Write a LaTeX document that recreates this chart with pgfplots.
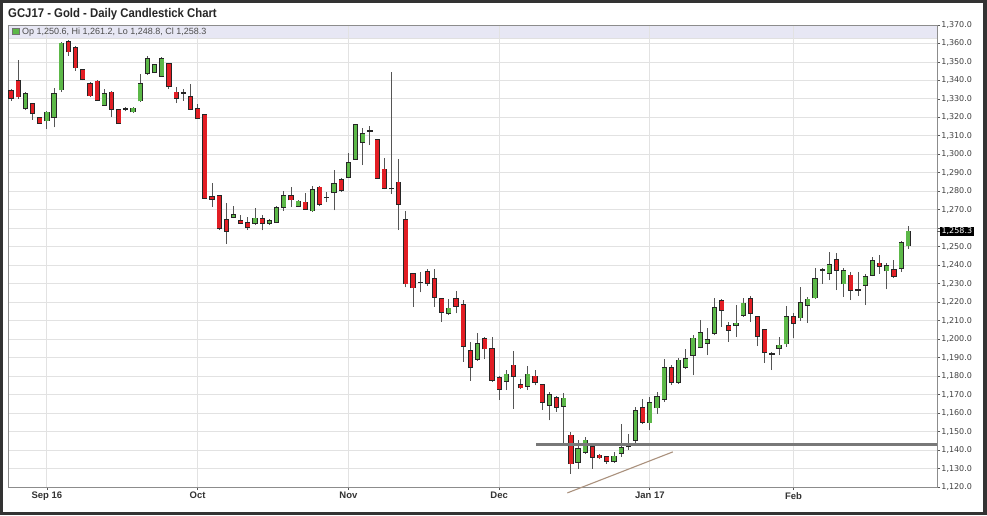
\documentclass[border=0pt]{standalone}
\usepackage{pgfplots}
\pgfplotsset{compat=1.18}
\usepackage{pgfplotstable}
\usepackage{fontspec}
\setmainfont{Liberation Sans}
\newfontfamily\tickfont{DejaVu Sans}
\newfontfamily\titlefont[FakeStretch=0.9]{Liberation Sans}
\definecolor{cgreen}{RGB}{92,184,72}
\definecolor{cred}{RGB}{226,30,36}
\definecolor{cgrid}{RGB}{226,226,226}
\definecolor{cbar}{RGB}{231,231,244}
\definecolor{cwick}{RGB}{85,85,85}
\definecolor{csupport}{RGB}{120,120,120}
\definecolor{ctrend}{RGB}{170,145,125}
\definecolor{caxis}{RGB}{140,140,140}

% t: 1 = up (green), 2 = down (red), 0 = doji
\pgfplotstableread{
i t o h l c
0 2 1334.4 1335.5 1329.0 1330.5
1 2 1339.8 1351.2 1329.9 1331.2
2 1 1324.9 1333.5 1324.0 1332.6
3 2 1327.2 1328.0 1318.6 1322.2
4 2 1319.6 1320.3 1316.5 1317.0
5 1 1318.2 1323.2 1313.7 1322.7
6 1 1320.0 1335.9 1314.6 1332.6
7 1 1335.0 1360.6 1334.0 1360.0
8 2 1361.0 1362.0 1353.3 1355.5
9 2 1357.8 1358.5 1345.2 1347.0
10 2 1345.6 1346.2 1340.0 1340.7
11 2 1338.0 1339.0 1331.0 1331.7
12 2 1339.5 1340.2 1329.0 1329.5
13 1 1326.8 1335.3 1326.3 1332.6
14 2 1333.5 1334.2 1320.4 1324.5
15 2 1324.0 1324.5 1316.5 1317.0
16 0 1324.5 1325.8 1323.2 1324.5
17 1 1323.1 1325.5 1322.5 1324.9
18 1 1329.0 1343.4 1328.6 1338.0
19 1 1343.8 1353.3 1343.0 1351.5
20 1 1344.3 1349.0 1344.0 1348.3
21 1 1342.5 1352.8 1342.0 1351.5
22 2 1348.8 1349.5 1335.3 1337.1
23 2 1333.5 1336.2 1327.7 1330.5
24 0 1333.2 1335.3 1329.0 1333.2
25 2 1331.2 1338.0 1324.0 1324.5
26 2 1324.5 1327.2 1319.0 1319.5
27 2 1321.4 1322.0 1275.9 1276.4
28 2 1277.1 1284.3 1271.4 1275.7
29 2 1277.7 1278.2 1259.0 1260.0
30 2 1264.5 1273.7 1251.5 1258.4
31 1 1266.0 1271.9 1265.5 1267.4
32 2 1264.1 1267.4 1262.2 1262.9
33 2 1262.9 1266.0 1259.1 1260.5
34 1 1262.7 1270.8 1261.9 1265.4
35 2 1265.1 1267.2 1258.8 1262.9
36 1 1262.7 1265.0 1262.0 1264.1
37 1 1263.2 1272.3 1262.8 1271.0
38 1 1271.4 1280.4 1269.5 1277.7
39 2 1277.7 1282.2 1271.4 1275.5
40 1 1271.9 1275.3 1271.4 1274.6
41 2 1274.0 1279.0 1270.0 1270.5
42 1 1269.5 1282.7 1269.0 1280.7
43 2 1282.2 1283.1 1272.0 1273.2
44 0 1276.6 1279.5 1274.0 1276.6
45 1 1279.4 1291.4 1269.7 1284.2
46 2 1286.1 1287.0 1279.8 1280.7
47 1 1287.5 1300.5 1287.0 1295.5
48 1 1297.5 1316.4 1297.0 1315.9
49 1 1306.5 1314.0 1294.2 1311.0
50 0 1312.6 1315.3 1305.0 1312.6
51 2 1307.7 1308.2 1287.0 1287.3
52 2 1291.9 1298.2 1281.0 1281.9
53 0 1281.4 1344.4 1278.8 1281.4
54 2 1284.8 1297.6 1259.0 1273.1
55 2 1264.4 1269.5 1228.0 1230.1
56 2 1235.5 1236.0 1217.5 1227.8
57 0 1230.7 1236.4 1225.3 1230.7
58 2 1236.4 1237.9 1229.0 1230.5
59 2 1232.5 1237.7 1217.5 1222.9
60 2 1221.8 1222.5 1209.4 1214.8
61 1 1213.9 1222.0 1213.0 1216.6
62 2 1221.8 1226.2 1213.9 1217.9
63 2 1218.4 1221.1 1187.7 1196.2
64 2 1193.5 1198.5 1177.4 1184.7
65 1 1189.2 1203.1 1188.3 1197.3
66 2 1200.3 1201.3 1189.2 1194.9
67 2 1194.6 1201.3 1177.0 1177.8
68 2 1179.2 1180.0 1167.0 1172.9
69 1 1177.3 1183.2 1172.4 1181.0
70 2 1185.9 1193.5 1162.4 1180.0
71 2 1175.1 1178.7 1173.0 1173.8
72 1 1174.5 1185.3 1172.4 1181.0
73 2 1179.9 1183.5 1175.0 1176.9
74 2 1175.1 1176.0 1161.9 1166.1
75 1 1164.3 1171.5 1156.1 1169.7
76 2 1168.4 1169.1 1160.7 1163.4
77 1 1163.7 1170.6 1143.5 1167.9
78 2 1148.0 1149.8 1127.3 1132.7
79 1 1133.6 1145.3 1130.0 1140.8
80 1 1139.0 1147.1 1138.0 1145.3
81 2 1141.7 1142.5 1130.0 1136.3
82 2 1137.2 1138.0 1135.0 1135.9
83 2 1136.3 1137.0 1132.5 1134.1
84 1 1133.9 1139.0 1133.0 1136.6
85 1 1138.4 1154.3 1136.3 1141.3
86 0 1142.0 1148.9 1139.9 1142.3
87 1 1145.3 1163.4 1144.0 1161.2
88 2 1163.0 1167.5 1154.0 1155.2
89 1 1154.9 1168.8 1150.7 1165.5
90 1 1163.0 1171.5 1159.7 1168.8
91 1 1167.5 1189.0 1166.0 1184.5
92 2 1184.5 1185.9 1175.1 1176.9
93 1 1176.9 1190.0 1176.0 1188.6
94 1 1185.0 1194.9 1184.0 1189.3
95 1 1191.3 1202.2 1180.5 1200.4
96 1 1195.5 1210.6 1195.0 1203.4
97 1 1198.0 1205.8 1191.3 1199.8
98 1 1203.4 1222.5 1202.0 1217.1
99 2 1220.7 1221.5 1206.7 1215.7
100 2 1207.2 1209.4 1198.6 1204.9
101 1 1207.4 1218.4 1201.3 1208.5
102 1 1213.0 1222.5 1212.0 1219.3
103 2 1222.0 1223.3 1209.4 1214.2
104 2 1212.1 1212.5 1196.2 1201.6
105 2 1204.9 1205.5 1187.2 1192.8
106 0 1191.9 1193.1 1183.2 1191.9
107 1 1195.3 1201.3 1191.3 1196.7
108 1 1197.6 1217.8 1196.0 1212.1
109 2 1212.1 1214.2 1200.4 1208.8
110 1 1211.7 1228.0 1210.0 1219.7
111 1 1218.4 1223.0 1208.8 1221.5
112 1 1222.4 1238.3 1222.0 1232.8
113 0 1237.4 1238.3 1230.1 1237.4
114 1 1235.9 1247.3 1231.9 1240.1
115 2 1243.1 1246.7 1226.5 1237.4
116 1 1230.1 1238.3 1222.9 1236.8
117 2 1234.6 1236.4 1221.1 1226.5
118 0 1226.5 1236.4 1223.3 1226.5
119 1 1229.2 1235.2 1218.4 1233.7
120 1 1234.6 1244.2 1234.0 1242.2
121 2 1241.0 1245.5 1235.5 1239.5
122 1 1237.0 1241.3 1226.9 1239.5
123 2 1237.4 1242.8 1233.0 1234.1
124 1 1238.3 1253.0 1236.5 1252.2
125 1 1250.6 1261.2 1248.8 1258.3
}\candles

\begin{document}
\begin{tikzpicture}
\path[use as bounding box] (0pt,0pt) rectangle (987pt,515pt);
\fill[white] (0pt,0pt) rectangle (987pt,515pt);
% legend bar (behind the grid)
\fill[cbar] (8pt,477pt) rectangle (937pt,490pt);
\draw[black!12, line width=0.6pt] (8pt,477pt) -- (937pt,477pt);
\begin{axis}[
  at={(8pt,28pt)}, anchor=south west,
  scale only axis, width=929pt, height=462pt,
  xmin=-0.42, xmax=129, ymin=1120, ymax=1370,
  clip=false,
  axis line style={draw=caxis, line width=0.9pt},
  xtick={5,26,47,68,89,109},
  xticklabels={Sep 16,Oct,Nov,Dec,Jan 17,Feb},
  xtick pos=bottom,
  ytick={1120,1130,1140,1150,1160,1170,1180,1190,1200,1210,1220,1230,1240,1250,1270,1280,1290,1300,1310,1320,1330,1340,1350,1360,1370},
  minor ytick={1260},
  ytick pos=right, yticklabel pos=right,
  tick align=outside,
  major tick length=3pt, minor tick length=3pt,
  tick style={draw=black!65, line width=0.8pt},
  grid=both,
  major grid style={draw=cgrid, line width=0.9pt},
  minor grid style={draw=cgrid, line width=0.9pt},
  xticklabel style={font=\bfseries\fontsize{9.5}{11}\selectfont, text=black!80, inner sep=2pt},
  yticklabel style={font=\tickfont\fontsize{8}{9}\selectfont, text=black!75, inner sep=1.2pt,
    /pgf/number format/fixed, /pgf/number format/fixed zerofill,
    /pgf/number format/precision=1, /pgf/number format/1000 sep={,},
    /pgf/number format/assume math mode=true},
  extra y ticks={1258.3},
  extra y tick style={grid=none, yticklabel style={fill=black, text=white, inner sep=1.4pt}},
]
% wicks
\addplot[draw=none, mark=none, forget plot,
  error bars/.cd, y dir=plus, y explicit, error mark=none,
  error bar style={draw=cwick, line width=0.9pt}]
  table[x=i, y=l, y error plus expr={\thisrow{h}-\thisrow{l}}] {\candles};
% body outlines
\addplot[draw=none, mark=none, forget plot,
  error bars/.cd, y dir=plus, y explicit, error mark=none,
  error bar style={draw=black!85, line width=5.2pt}]
  table[x=i, y expr={min(\thisrow{o},\thisrow{c})-0.38}, y error plus expr={abs(\thisrow{c}-\thisrow{o})+0.76}] {\candles};
% green bodies (rising candles, t = 1)
\addplot[draw=none, mark=none, forget plot,
  error bars/.cd, y dir=plus, y explicit, error mark=none,
  error bar style={draw=cgreen, line width=3.7pt}]
  table[x=i, y=o, y error plus expr={equal(\thisrow{t},1)*(\thisrow{c}-\thisrow{o})}] {\candles};
% red bodies (falling candles, t = 2)
\addplot[draw=none, mark=none, forget plot,
  error bars/.cd, y dir=plus, y explicit, error mark=none,
  error bar style={draw=cred, line width=3.7pt}]
  table[x=i, y=c, y error plus expr={equal(\thisrow{t},2)*(\thisrow{o}-\thisrow{c})}] {\candles};
% support line
\addplot[csupport, line width=2.2pt, forget plot] coordinates {(73.2,1143.0) (129,1143.0)};
% trend line
\addplot[ctrend, line width=1.1pt, forget plot] coordinates {(77.5,1116.8) (92.2,1139.0)};
\end{axis}
% title
\node[anchor=base west, inner sep=0pt, text=black!85,
  font=\titlefont\bfseries\fontsize{12.6}{14}\selectfont] at (8pt,497.3pt)
  {GCJ17 - Gold - Daily Candlestick Chart};
% legend entry
\fill[cgreen, draw=black!55, line width=0.5pt] (12.5pt,480.5pt) rectangle (19.5pt,487pt);
\node[anchor=base west, inner sep=0pt, text=black!70, font=\fontsize{9}{10}\selectfont]
  at (22pt,480pt) {Op 1,250.6, Hi 1,261.2, Lo 1,248.8, Cl 1,258.3};
% outer frame
\draw[black!80, line width=3pt] (1.5pt,1.5pt) rectangle (984.5pt,513.5pt);
\fill[black!80] (983pt,0pt) rectangle (987pt,515pt);
\end{tikzpicture}
\end{document}
